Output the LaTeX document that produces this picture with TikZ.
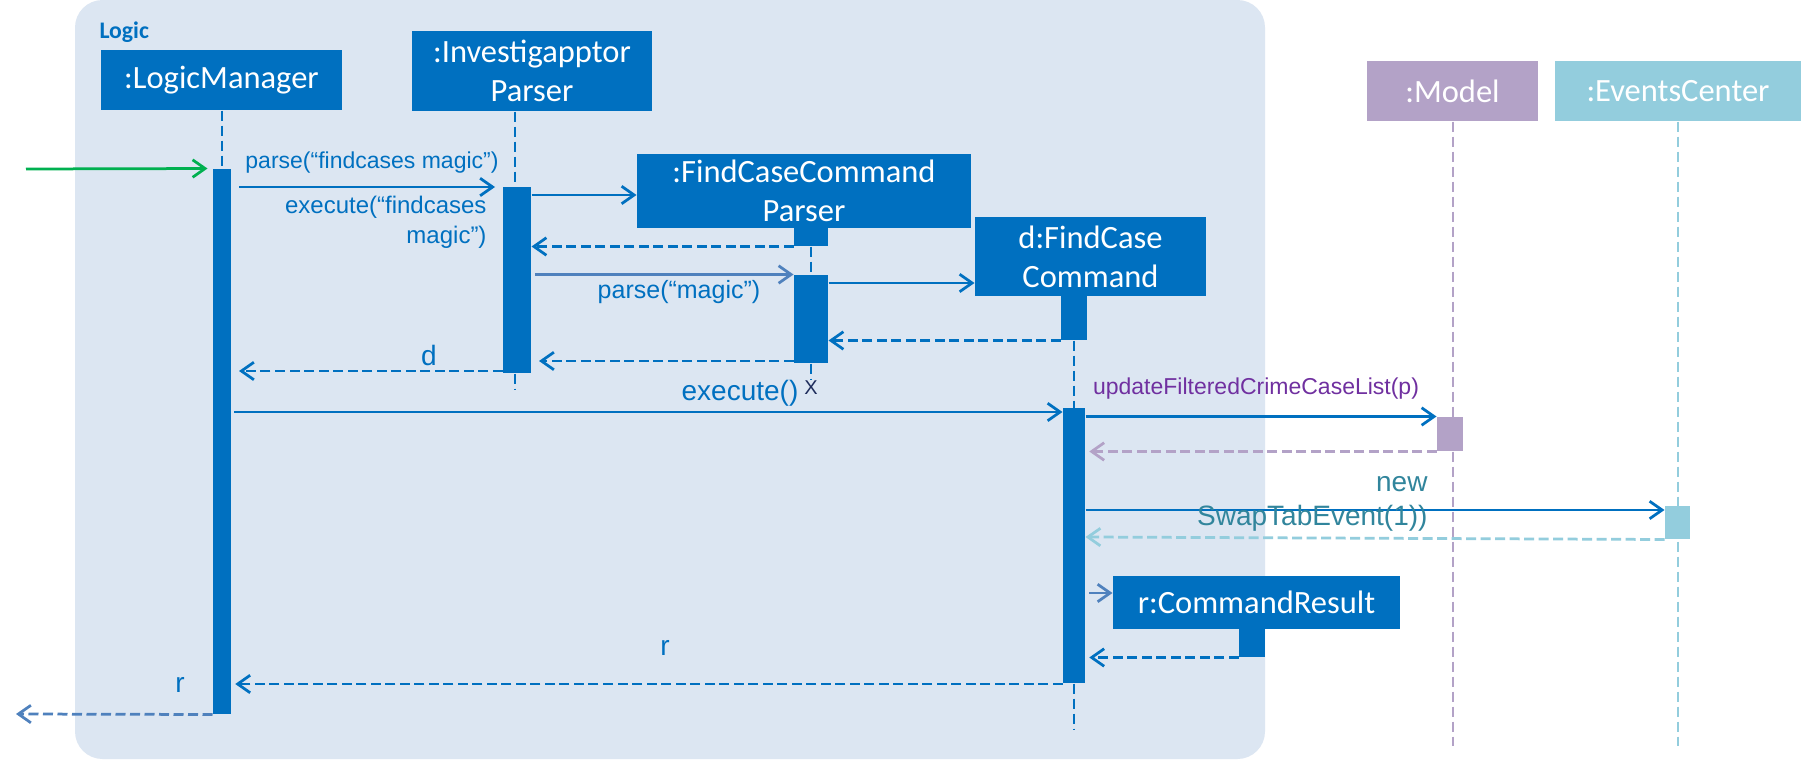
\documentclass[tikz,border=0pt]{standalone}
\usepackage{fontspec}
\setmainfont{Liberation Sans}
\newfontfamily\boxfont{Carlito}
\usetikzlibrary{arrows.meta,fit}
\definecolor{ublue}{HTML}{0070C0}
\definecolor{lblue}{HTML}{4F81BD}
\definecolor{bgblue}{HTML}{DCE6F2}
\definecolor{mpurple}{HTML}{B3A2C7}
\definecolor{ecblue}{HTML}{93CDDD}
\definecolor{tpurple}{HTML}{7030A0}
\definecolor{tteal}{HTML}{31859C}
\definecolor{ugreen}{HTML}{00B050}
\definecolor{xnavy}{HTML}{1F2D5C}
\begin{document}
\begin{tikzpicture}[x=0.4pt,y=-0.4pt,
  obj/.style={fill=ublue, draw=none, text=white, inner sep=0pt, align=center,
    font={\boxfont\fontsize{13}{15.6}\selectfont}},
  act/.style={fill=ublue, draw=none, inner sep=0pt},
  msg/.style={draw=ublue, line width=1.1pt, -{Straight Barb[length=5pt,width=7pt]}},
  ret/.style={msg, dash pattern=on 4pt off 1.8pt},
  life/.style={draw=ublue, line width=1pt, dash pattern=on 4pt off 2pt},
  lbl/.style={inner sep=0pt, text=ublue},
  small/.style={font={\fontsize{9.2}{11}\selectfont}},
  big/.style={font={\fontsize{11.2}{13.6}\selectfont}}
]
\useasboundingbox (0,0) rectangle (1801,760);
\fill[white] (0,0) rectangle (1801,760);
% Logic frame
\fill[bgblue, rounded corners=11pt] (75,0) rectangle (1265,759);
\node[anchor=west, inner sep=0pt, text=ublue, font={\boxfont\bfseries\fontsize{9.5}{11}\selectfont}] (logiclbl) at (99,32) {Logic};

% objects
\node[obj, minimum width=96.4pt, minimum height=24pt] (lm) at (221.5,80) {:LogicManager};
\node[obj, minimum width=96pt, minimum height=32pt] (ip) at (532,71) {:Investigapptor\\Parser};
\node[obj, minimum width=133.6pt, minimum height=29.6pt] (fccp) at (804,191) {:FindCaseCommand\\Parser};
\node[obj, minimum width=92.4pt, minimum height=31.6pt] (fcc) at (1090.5,256.5) {d:FindCase\\Command};
\node[obj, fill=mpurple, minimum width=68.4pt, minimum height=24pt] (model) at (1452.5,91) {:Model};
\node[obj, fill=ecblue, minimum width=98.4pt, minimum height=24pt] (ec) at (1678,91) {:EventsCenter};
\node[obj, minimum width=114.8pt, minimum height=21.2pt] (cr) at (1256.5,602.5) {r:CommandResult};

% activation bars
\node[act, fit={(213,169) (231,714)}] (lmbar) {};
\node[act, fit={(503,187) (531,373)}] (ipbar) {};
\node[act, fit={(794,228) (828,246)}] (fccpact) {};
\node[act, fit={(794,275) (828,363)}] (fccpbar) {};
\node[act, fit={(1061,296) (1087,340)}] (fccact) {};
\node[act, fit={(1063,408) (1085,683)}] (fccbar) {};
\node[act, fill=mpurple, fit={(1437,417) (1463,451)}] (modelact) {};
\node[act, fill=ecblue, fit={(1665,506) (1690,539)}] (ecact) {};
\node[act, fit={(1239,629) (1265,657)}] (cract) {};

% lifelines
\coordinate (ipend) at (515,390);
\coordinate (fccpend) at (811,380);
\coordinate (fccend) at (1074,730);
\coordinate (modelend) at (1453,746);
\coordinate (ecend) at (1678,746);
\draw[life] (lm.south -| lmbar.north) -- (lmbar.north);
\draw[life] (ip.south -| ipend) -- (ipbar.north -| ipend);
\draw[life] (ipbar.south -| ipend) -- (ipend);
\draw[life] (fccpact.south) -- (fccpbar.north);
\draw[life] (fccpbar.south) -- (fccpend);
\draw[life] (fccact.south) -- (fccbar.north);
\draw[life] (fccbar.south) -- (fccend);
\draw[life, draw=mpurple] (model.south -| modelend) -- (modelend);
\draw[life, draw=ecblue] (ec.south -| ecend) -- (ecend);

% messages
\coordinate (start) at (26,169);
\draw[msg, draw=ugreen, shorten >=2pt] (start) -- (lmbar.north west);

\draw[msg, shorten <=3pt, shorten >=3pt] (lmbar.east |- 0,187) -- (ipbar.west |- 0,187);
\node[lbl, small] (m1) at (372,163) {parse(“findcases magic”)};
\node[lbl, align=right, anchor=east, font={\fontsize{9.6}{12}\selectfont}] (m1b) at (487,222) {execute(“findcases\\magic”)};

\draw[msg] (ipbar.east |- 0,195) -- (fccp.west |- 0,195);
\draw[ret] (fccpact.south west) -- (ipbar.east |- fccpact.south west);

\draw[msg, draw=lblue, shorten <=1.5pt] (ipbar.east |- fccpbar.north) -- (fccpbar.north west);
\node[lbl, font={\fontsize{10}{12}\selectfont}] (m2) at (679,292) {parse(“magic”)};

\draw[msg] (fccpbar.east |- 0,283) -- (fcc.west |- 0,283);
\draw[ret] (fccact.south west) -- (fccpbar.east |- fccact.south west);
\draw[ret, shorten >=3pt] (fccpbar.west |- 0,361) -- (ipbar.east |- 0,361);
\draw[ret, shorten >=3pt] (ipbar.west |- 0,371) -- (lmbar.east |- 0,371);
\node[lbl, big] (dlbl) at (429,355) {d};
\node[inner sep=0pt, text=xnavy, font={\fontsize{8}{9}\selectfont}] (xmark) at (811,388) {X};

\draw[msg, shorten <=1pt] (lmbar.east |- 0,412) -- (fccbar.west |- 0,412);
\node[lbl, big] (m3) at (740,393) {execute()};

\draw[msg] (fccbar.east |- modelact.north) -- (modelact.north west);
\node[inner sep=0pt, text=tpurple, small] (m4) at (1256,389) {updateFilteredCrimeCaseList(p)};
\draw[ret, draw=mpurple, shorten >=1.5pt] (modelact.south west) -- (fccbar.east |- modelact.south west);

\draw[msg] (fccbar.east |- 0,510) -- (ecact.west |- 0,510);
\node[inner sep=0pt, text=tteal, align=right, anchor=east, font={\fontsize{11.2}{13.6}\selectfont}] (m5) at (1428,504) {new\\SwapTabEvent(1))};
\draw[ret, draw=ecblue] (ecact.south west) -- (fccbar.east |- 0,537);

\draw[msg, draw=lblue, shorten <=1.5pt] (fccbar.east |- 0,593) -- (cr.west |- 0,593);
\draw[ret, shorten >=1.5pt] (cract.south west) -- (fccbar.east |- cract.south west);

\draw[ret, shorten >=1.5pt] (fccbar.west |- 0,684) -- (lmbar.east |- 0,684);
\node[lbl, big] (r1) at (665,648) {r};

\coordinate (finish) at (16,714);
\draw[ret, draw=lblue] (lmbar.south west) -- (finish);
\node[lbl, big] (r2) at (180,685) {r};
\end{tikzpicture}
\end{document}
